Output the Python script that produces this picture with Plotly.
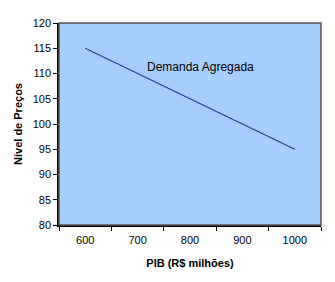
import plotly.graph_objects as go

pib = ["600", "700", "800", "900", "1000"]
nivel_precos = [115, 110, 105, 100, 95]
y_ticks = [80, 85, 90, 95, 100, 105, 110, 115, 120]
series_label = "Demanda Agregada"

font = "Liberation Sans, Arial, sans-serif"

fig = go.Figure()
fig.add_trace(go.Scatter(x=pib, y=nivel_precos, mode="lines",
                         line=dict(color="#333399", width=1.2),
                         showlegend=False, hoverinfo="skip"))

fig.add_annotation(x=2.2, y=111.3, xref="x", yref="y", text=series_label,
                   showarrow=False, font=dict(family=font, size=12, color="black"))

fig.update_layout(
    width=335, height=282,
    margin=dict(l=59, r=14, t=23, b=57),
    paper_bgcolor="white",
    plot_bgcolor="#A6CFFF",
    font=dict(family=font, size=11, color="black"),
    shapes=[dict(type="rect", xref="paper", yref="paper", x0=0, x1=1, y0=0, y1=1,
                 line=dict(color="#555555", width=1.5), layer="above")],
)
fig.update_xaxes(
    type="category", range=[-0.5, 4.5], tickson="boundaries",
    ticks="outside", ticklen=4, tickcolor="black", tickwidth=1,
    showline=True, linecolor="black", linewidth=1.5, mirror=False,
    showgrid=False, zeroline=False,
    ticklabelstandoff=4,
    tickfont=dict(family=font, size=11),
    title=dict(text="<b>PIB (R$ milhões)</b>", font=dict(family=font, size=11), standoff=14),
)
fig.update_yaxes(
    range=[80, 120], tickvals=y_ticks,
    ticks="outside", ticklen=4, tickcolor="black", tickwidth=1,
    showline=True, linecolor="black", linewidth=1.5,
    showgrid=False, zeroline=False,
    tickfont=dict(family=font, size=11),
    title=dict(text="<b>Nível de Preços</b>", font=dict(family=font, size=11), standoff=8),
)

fig.write_html("out.html")
